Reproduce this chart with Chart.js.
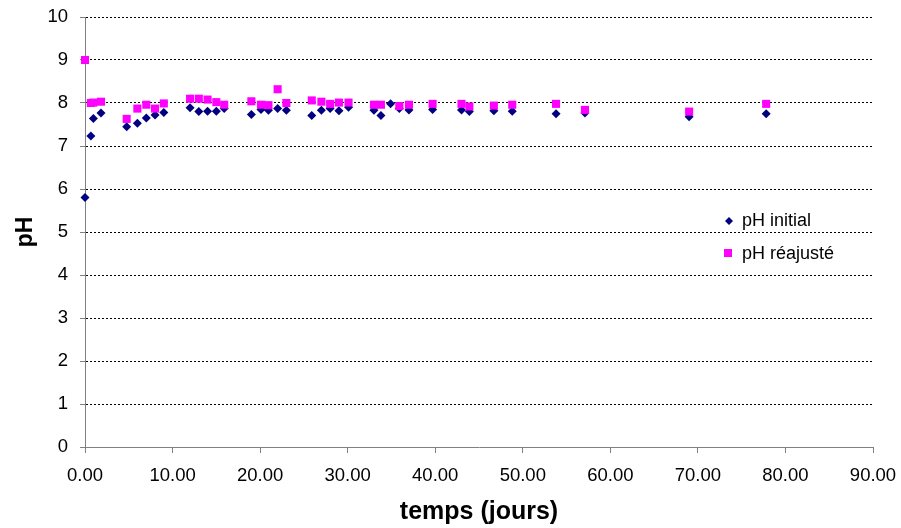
<!DOCTYPE html>
<html>
<head>
<meta charset="utf-8">
<script src="https://cdn.jsdelivr.net/npm/chart.js@4.4.0/dist/chart.umd.min.js"></script>
<style>
  body { margin: 0; background: #fff; }
  canvas { display: block; }
</style>
</head>
<body>
<canvas id="graphePH" width="901" height="528"></canvas>
<script>
var jours = [0, 0.67, 0.96, 1.83, 4.76, 5.98, 7.0, 8.0, 9.0, 12.0, 13.0, 14.0, 15.0, 15.9,
    19.0, 20.1, 20.95, 22.0, 23.0, 25.9, 27.0, 28.0, 29.0, 30.1, 33.0, 33.8, 34.9, 35.9,
    37.0, 39.7, 43.0, 43.9, 46.7, 48.8, 53.8, 57.1, 69.0, 77.8];
var phInitial = [5.80, 7.23, 7.64, 7.77, 7.45, 7.53, 7.65, 7.72, 7.78, 7.89, 7.80, 7.81, 7.81, 7.87,
    7.73, 7.85, 7.83, 7.87, 7.83, 7.71, 7.83, 7.87, 7.82, 7.90, 7.83, 7.71, 7.98, 7.87,
    7.84, 7.85, 7.84, 7.80, 7.82, 7.81, 7.75, 7.77, 7.68, 7.75];
var phReajuste = [9.00, 8.00, 8.01, 8.03, 7.63, 7.87, 7.96, 7.87, 7.99, 8.10, 8.10, 8.08, 8.02, 7.96,
    8.04, 7.96, 7.95, 8.32, 8.00, 8.06, 8.03, 7.98, 8.01, 8.01, 7.96, 7.96, null, 7.93,
    7.96, 7.98, 7.98, 7.92, 7.94, 7.96, 7.98, 7.84, 7.80, 7.98];
var ticksX = [0, 10, 20, 30, 40, 50, 60, 70, 80, 90];
var ticksY = [0, 1, 2, 3, 4, 5, 6, 7, 8, 9, 10];

function points(valeurs) {
    var pts = [];
    for (var i = 0; i < jours.length; i++) {
        if (valeurs[i] !== null) pts.push({ x: jours[i], y: valeurs[i] });
    }
    return pts;
}

var police = 'Liberation Sans, Arial, sans-serif';

// légende dessinée dans la zone du graphique, comme dans Excel
var legendeExcel = {
    id: 'legendeExcel',
    afterDraw: function (chart) {
        var ctx = chart.ctx;
        ctx.save();
        ctx.fillStyle = '#000080';
        ctx.beginPath();
        ctx.moveTo(729, 217);
        ctx.lineTo(733, 221);
        ctx.lineTo(729, 225);
        ctx.lineTo(725, 221);
        ctx.closePath();
        ctx.fill();
        ctx.fillStyle = '#FF00FF';
        ctx.fillRect(724, 249, 8, 8);
        ctx.fillStyle = '#000';
        ctx.font = '18px ' + police;
        ctx.textBaseline = 'middle';
        ctx.fillText('pH initial', 742, 221);
        ctx.fillText('pH réajusté', 742, 254);
        ctx.restore();
    }
};

new Chart(document.getElementById('graphePH'), {
    type: 'scatter',
    data: {
        datasets: [
            {
                label: 'pH initial',
                data: points(phInitial),
                pointStyle: 'rectRot',
                pointRadius: 4.5,
                pointHoverRadius: 4.5,
                backgroundColor: '#000080',
                borderColor: '#000080',
                borderWidth: 0,
                clip: false,
                order: 2
            },
            {
                label: 'pH réajusté',
                data: points(phReajuste),
                pointStyle: 'rect',
                pointRadius: 5.7,
                pointHoverRadius: 5.7,
                backgroundColor: '#FF00FF',
                borderColor: '#FF00FF',
                borderWidth: 0,
                clip: false,
                order: 1
            }
        ]
    },
    options: {
        responsive: false,
        animation: false,
        layout: { padding: { top: 17, right: 28, left: 0, bottom: 0 } },
        plugins: {
            legend: { display: false },
            tooltip: { enabled: false }
        },
        scales: {
            x: {
                type: 'linear',
                min: 0,
                max: 90,
                afterBuildTicks: function (scale) {
                    scale.ticks = ticksX.map(function (v) { return { value: v }; });
                },
                afterFit: function (scale) {
                    scale.height = 81;
                    scale.paddingLeft = 0;
                    scale.paddingRight = 0;
                },
                border: { color: '#808080', width: 1 },
                grid: { drawOnChartArea: false, tickLength: 6, tickColor: '#808080' },
                ticks: {
                    color: '#000',
                    font: { family: police, size: 18.5 },
                    padding: 12,
                    maxRotation: 0,
                    callback: function (v) { return v.toFixed(2); }
                },
                title: {
                    display: true,
                    text: 'temps (jours)',
                    color: '#000',
                    font: { family: police, size: 25, weight: 'bold' },
                    padding: { top: 0, bottom: 1 }
                }
            },
            y: {
                min: 0,
                max: 10,
                afterBuildTicks: function (scale) {
                    scale.ticks = ticksY.map(function (v) { return { value: v }; });
                },
                afterFit: function (scale) {
                    scale.width = 85;
                    scale.paddingTop = 0;
                    scale.paddingBottom = 0;
                },
                border: { color: '#808080', width: 1, dash: [2, 2] },
                grid: {
                    color: function (c) { return c.tick && c.tick.value === 0 ? 'rgba(0,0,0,0)' : '#000'; },
                    tickLength: 5,
                    tickColor: '#808080',
                    tickBorderDash: []
                },
                ticks: {
                    color: '#000',
                    font: { family: police, size: 18.5 },
                    padding: 12
                },
                title: {
                    display: true,
                    text: 'pH',
                    color: '#000',
                    font: { family: police, size: 23, weight: 'bold' },
                    padding: { top: 12, bottom: 0 }
                }
            }
        }
    },
    plugins: [legendeExcel]
});
</script>
</body>
</html>
